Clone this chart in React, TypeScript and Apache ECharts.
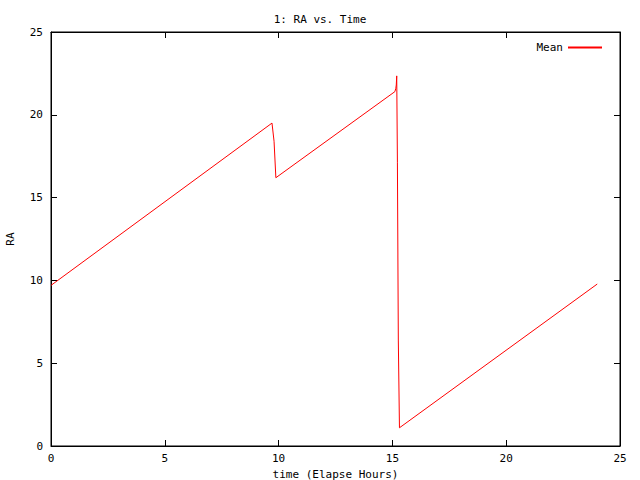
import React, { useEffect, useRef } from 'react';
import * as echarts from 'echarts';

// Elapsed hours and mean RA (hours) at each sample where the slope changes
const timeHours = [0, 9.71, 9.8, 9.88, 15.11, 15.15, 15.17, 15.19, 15.22, 15.26, 15.31, 24.0];
const raValues = [9.7, 19.5, 18.4, 16.2, 21.4, 21.6, 21.8, 22.35, 17.1, 6.4, 1.1, 9.78];
const seriesName = 'Mean';
const xTicks = { min: 0, max: 25, interval: 5 };
const yTicks = { min: 0, max: 25, interval: 5 };

const FONT = '"DejaVu Sans Mono", monospace';

export default function App() {
    const chartRef = useRef<HTMLDivElement>(null);

    useEffect(() => {
        const chart = echarts.init(chartRef.current!, null, { renderer: 'svg' });

        const tickStyle = { show: true, inside: true, length: 6, lineStyle: { color: '#000', width: 1 } };
        const lineStyle = { show: true, onZero: false, lineStyle: { color: '#000' } };
        const label = { color: '#000', fontFamily: FONT, fontSize: 11 };

        chart.setOption({
            animation: false,
            backgroundColor: '#fff',
            title: {
                text: '1: RA vs. Time',
                left: 'center',
                top: 9,
                textStyle: { fontFamily: FONT, fontSize: 11, fontWeight: 'normal', color: '#000' },
            },
            legend: {
                right: 33,
                top: 37,
                align: 'right',
                itemWidth: 34,
                itemHeight: 2,
                itemGap: 8,
                icon: 'rect',
                textStyle: { fontFamily: FONT, fontSize: 11, color: '#000' },
                data: [seriesName],
            },
            grid: {
                left: 51,
                right: 20,
                top: 32,
                bottom: 34,
                containLabel: false,
                outerBoundsMode: 'none',
                show: true,
                borderColor: '#000',
                borderWidth: 1,
            },
            xAxis: [
                {
                    type: 'value',
                    position: 'bottom',
                    ...xTicks,
                    name: 'time (Elapse Hours)',
                    nameLocation: 'middle',
                    nameGap: 20,
                    nameTextStyle: label,
                    axisLine: lineStyle,
                    axisTick: tickStyle,
                    axisLabel: { ...label, margin: 7 },
                    splitLine: { show: false },
                },
                {
                    type: 'value',
                    position: 'top',
                    ...xTicks,
                    axisLine: lineStyle,
                    axisTick: tickStyle,
                    axisLabel: { show: false },
                    splitLine: { show: false },
                },
            ],
            yAxis: [
                {
                    type: 'value',
                    position: 'left',
                    ...yTicks,
                    name: 'RA',
                    nameLocation: 'middle',
                    nameGap: 35,
                    nameRotate: 90,
                    nameTextStyle: label,
                    axisLine: lineStyle,
                    axisTick: tickStyle,
                    axisLabel: { ...label, margin: 8 },
                    splitLine: { show: false },
                },
                {
                    type: 'value',
                    position: 'right',
                    ...yTicks,
                    axisLine: lineStyle,
                    axisTick: tickStyle,
                    axisLabel: { show: false },
                    splitLine: { show: false },
                },
            ],
            series: [
                {
                    name: seriesName,
                    type: 'line',
                    showSymbol: false,
                    symbol: 'none',
                    lineStyle: { color: '#ff0000', width: 1 },
                    itemStyle: { color: '#ff0000' },
                    data: timeHours.map((t, i) => [t, raValues[i]]),
                },
            ],
        });

        return () => {
            chart.dispose();
        };
    }, []);

    return (
        <div
            ref={chartRef}
            style={{ position: 'fixed', left: 0, top: 0, width: 640, height: 480, background: '#fff' }}
        />
    );
}
